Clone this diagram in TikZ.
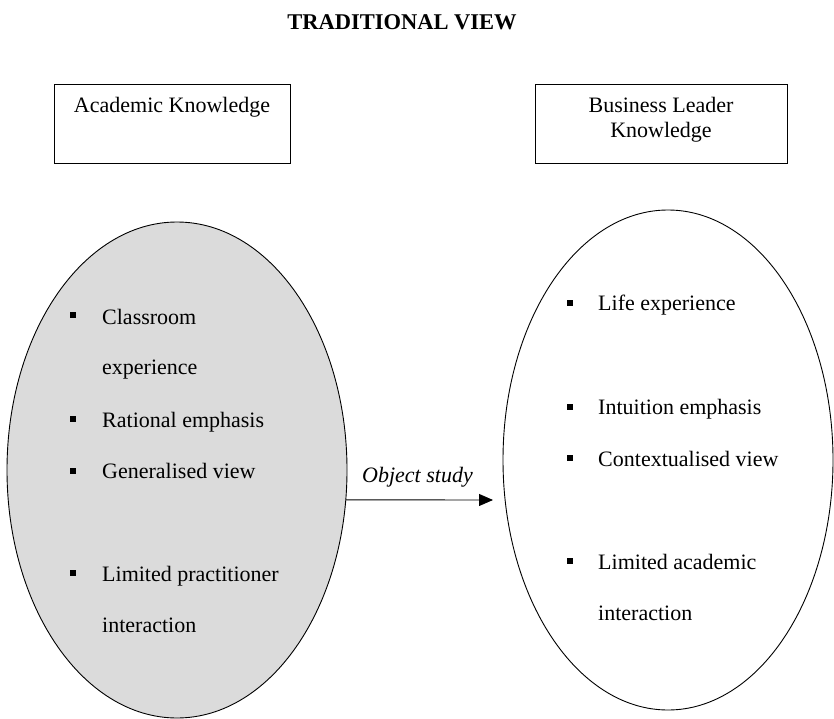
\documentclass[tikz,border=0pt]{standalone}
\usepackage{fontspec}
\setmainfont{Liberation Serif}
\usetikzlibrary{shapes.geometric,arrows.meta}
\begin{document}
\begin{tikzpicture}[x=1pt,y=-1pt,
  every node/.style={font=\fontsize{22}{26}\selectfont},
  hbox/.style={draw,line width=0.9pt},
  oval/.style={draw,ellipse,line width=0.9pt,inner sep=0pt},
  bul/.style={fill=black,minimum size=5.5pt,inner sep=0pt,draw=none},
  item/.style={anchor=base west,inner sep=0pt},
  conn/.style={line width=0.9pt,-{Triangle[length=14pt,width=12pt]}}]
\useasboundingbox (0,0) rectangle (834,719);
\node[font=\fontsize{22.5}{26}\selectfont\bfseries,anchor=base,inner sep=0pt] (title) at (402,30) {TRADITIONAL VIEW};
% boxes
\draw[hbox] (54,84) rectangle (290,163);
\node[anchor=base,inner sep=0pt] (ak) at (172,113) {Academic Knowledge};
\draw[hbox] (535,84) rectangle (787,163);
\node[anchor=base,inner sep=0pt] (bl1) at (661,113) {Business Leader};
\node[anchor=base,inner sep=0pt] (bl2) at (661,138) {Knowledge};
% ellipses
\node[oval,fill=black!14,minimum width=340pt,minimum height=496pt] (L) at (177,470) {};
\node[oval,minimum width=330pt,minimum height=500pt] (R) at (668,460) {};
% left items
\node[bul] (lb1) at (73,315) {};
\node[item] (lt1) at (102,324) {Classroom};
\node[item] (lt1b) at (102,374) {experience};
\node[bul] (lb2) at (73,419) {};
\node[item] (lt2) at (102,427) {Rational emphasis};
\node[bul] (lb3) at (73,471) {};
\node[item] (lt3) at (102,478) {Generalised view};
\node[bul] (lb4) at (73,573) {};
\node[item] (lt4) at (102,581) {Limited practitioner};
\node[item] (lt4b) at (102,632) {interaction};
% right items
\node[bul] (rb1) at (570,303) {};
\node[item] (rt1) at (598,310) {Life experience};
\node[bul] (rb2) at (570,407) {};
\node[item] (rt2) at (598,414) {Intuition emphasis};
\node[bul] (rb3) at (570,458) {};
\node[item] (rt3) at (598,466) {Contextualised view};
\node[bul] (rb4) at (570,561) {};
\node[item] (rt4) at (598,569) {Limited academic};
\node[item] (rt4b) at (598,620) {interaction};
% arrow
\coordinate (tip) at (493,500);
\draw[conn] (L.-10) -- (tip);
\node[item,font=\fontsize{22}{26}\selectfont\itshape] (os) at (362,482) {Object study};
\end{tikzpicture}
\end{document}
